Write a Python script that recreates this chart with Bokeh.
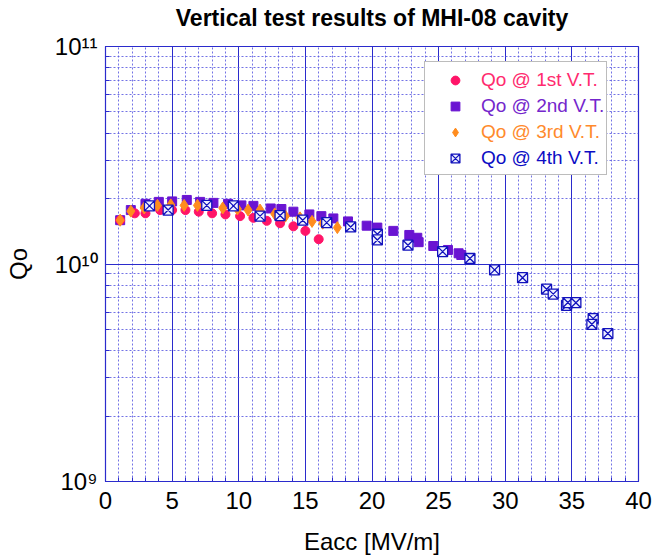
from bokeh.plotting import figure
from bokeh.models import Legend, LegendItem, SingleIntervalTicker, LogTicker, Title
from bokeh.embed import file_html
from bokeh.resources import INLINE

# ---- data ----
e_1st = [1.1, 2.2, 3.0, 4.1, 5.0, 6.0, 7.0, 8.0, 9.0, 10.1, 11.1, 12.1, 13.1, 14.1, 15.0, 16.0]
q_1st = [1.59e10, 1.71e10, 1.71e10, 1.77e10, 1.77e10, 1.77e10, 1.74e10, 1.71e10, 1.69e10,
         1.66e10, 1.63e10, 1.58e10, 1.54e10, 1.49e10, 1.42e10, 1.30e10]

e_2nd = [1.1, 1.9, 3.0, 4.0, 5.0, 6.1, 7.1, 8.1, 9.2, 10.2, 11.1, 12.4, 13.2, 14.1, 15.3,
         16.2, 17.1, 18.2, 19.6, 20.4, 21.6, 22.8, 23.4, 23.5, 24.6, 25.7, 26.5, 26.7]
q_2nd = [1.59e10, 1.77e10, 1.89e10, 1.93e10, 1.94e10, 1.97e10, 1.93e10, 1.91e10, 1.89e10,
         1.86e10, 1.85e10, 1.80e10, 1.79e10, 1.74e10, 1.69e10, 1.66e10, 1.62e10, 1.57e10,
         1.50e10, 1.47e10, 1.42e10, 1.36e10, 1.32e10, 1.26e10, 1.21e10, 1.16e10, 1.12e10,
         1.10e10]

e_3rd = [1.1, 1.9, 2.9, 3.9, 4.9, 5.9, 6.9, 8.8, 9.9, 10.7, 11.6, 12.7, 13.5, 14.6, 15.5,
         16.3, 17.4]
q_3rd = [1.59e10, 1.75e10, 1.81e10, 1.86e10, 1.87e10, 1.86e10, 1.86e10, 1.81e10, 1.79e10,
         1.77e10, 1.77e10, 1.70e10, 1.66e10, 1.63e10, 1.57e10, 1.54e10, 1.47e10]

e_4th = [3.3, 4.7, 7.6, 9.6, 11.6, 13.1, 14.8, 16.6, 18.4, 20.4, 20.4, 22.7, 25.3, 27.35,
         29.2, 31.3, 33.1, 33.6, 34.6, 34.7, 35.3, 36.6, 36.5, 37.7]
q_4th = [1.85e10, 1.77e10, 1.86e10, 1.85e10, 1.66e10, 1.67e10, 1.59e10, 1.55e10, 1.48e10,
         1.37e10, 1.29e10, 1.22e10, 1.14e10, 1.06e10, 9.4e9, 8.65e9, 7.66e9, 7.27e9,
         6.45e9, 6.65e9, 6.64e9, 5.61e9, 5.28e9, 4.79e9]

labels = ["Qo @ 1st V.T.", "Qo @ 2nd V.T.", "Qo @ 3rd V.T.", "Qo @ 4th V.T."]
title_text = "Vertical test results of MHI-08 cavity"
x_ticks_interval = 5
y_tick_labels = {1e9: "10\u2079", 1e10: "10\u00b9\u2070", 1e11: "10\u00b9\u00b9"}

# ---- styling ----
FONT = "Liberation Sans"
c1, c2, c3, c4 = "#ff1468", "#6a14d2", "#ff8c1e", "#1212bc"
t1, t2, t3, t4 = "#ff2a6e", "#7426cc", "#ff8a2c", "#0c0cc4"
GRID = "#2b2bcc"
MINOR = "#5a5ae0"

p = figure(width=654, height=557, x_range=(0, 40), y_range=(1e9, 1e11),
           y_axis_type="log", output_backend="svg", toolbar_location=None,
           min_border_left=105, min_border_right=16, min_border_top=45,
           min_border_bottom=76)

# real title (outer panel)
p.title.text = title_text
p.title.align = "center"
p.title.text_font = FONT
p.title.text_font_size = "23px"
p.title.text_font_style = "bold"
p.title.text_color = "black"
p.title.standoff = 4

# small spacer panel between the title and the frame
p.add_layout(Title(text=" ", text_font_size="1px", standoff=11), "above")

p.outline_line_color = GRID
p.outline_line_width = 1.2

# axes
p.xaxis.ticker = SingleIntervalTicker(interval=x_ticks_interval, num_minor_ticks=5)
p.yaxis.ticker = LogTicker(num_minor_ticks=10)
p.yaxis.major_label_overrides = y_tick_labels
for ax in (p.xaxis, p.yaxis):
    ax.axis_line_color = GRID
    ax.major_tick_line_color = GRID
    ax.minor_tick_line_color = GRID
    ax.major_tick_in = 5
    ax.major_tick_out = 0
    ax.minor_tick_in = 4
    ax.minor_tick_out = 0
    ax.major_label_text_font = FONT
    ax.major_label_text_font_size = "24px"
    ax.major_label_text_color = "black"
    ax.axis_label_text_font = FONT
    ax.axis_label_text_font_size = "24px"
    ax.axis_label_text_font_style = "normal"
    ax.axis_label_text_color = "black"

p.xaxis.axis_label = "Eacc [MV/m]"
p.yaxis.axis_label = "Qo"
p.xaxis.major_label_standoff = 10
p.xaxis.axis_label_standoff = 16
p.yaxis.major_label_standoff = 8
p.yaxis.axis_label_standoff = 20

# grids
for g in (p.xgrid, p.ygrid):
    g.grid_line_color = GRID
    g.grid_line_width = 1
    g.grid_line_alpha = 1.0
    g.minor_grid_line_color = MINOR
    g.minor_grid_line_dash = "2 2"
    g.minor_grid_line_width = 1
    g.minor_grid_line_alpha = 0.85

# data markers
r2 = p.scatter(e_2nd, q_2nd, marker="square", size=9, fill_color=c2, line_color=c2)
r1 = p.scatter(e_1st, q_1st, marker="circle", size=9, fill_color=c1, line_color=c1)
r3 = p.scatter(e_3rd, q_3rd, marker="diamond", size=12, fill_color=c3, line_color=c3)
r4 = p.scatter(e_4th, q_4th, marker="square_x", size=10, fill_color="#eef0ff",
               line_color=c4, line_width=1.3)

renderers = [r1, r2, r3, r4]
text_colors = [t1, t2, t3, t4]

# invisible renderer so the framing legend draws no glyphs of its own
blank = p.scatter([], [], marker="circle", size=1, fill_alpha=0, line_alpha=0)

PAD = 6
ROW_H = 22
SPACING = 4
LEG_X = 319
LEG_BOTTOM = 306
LABEL_W = 118

def style_legend(lg):
    lg.padding = PAD
    lg.spacing = SPACING
    lg.margin = 0
    lg.glyph_width = 50
    lg.glyph_height = ROW_H
    lg.label_height = ROW_H
    lg.label_width = LABEL_W
    lg.label_standoff = 1
    lg.label_text_font = FONT
    lg.label_text_font_size = "19px"

# box legend (frame only)
box = Legend(items=[LegendItem(label="\u00a0", renderers=[blank]) for _ in renderers],
             location=(LEG_X, LEG_BOTTOM))
style_legend(box)
box.border_line_color = "#7a7a7a"
box.border_line_width = 1.5
box.background_fill_color = "white"
box.background_fill_alpha = 1.0
p.add_layout(box, "center")

# coloured entries, one legend per entry
top_single_bottom = LEG_BOTTOM + 3 * ROW_H + 3 * SPACING
for i, (l, r, tc) in enumerate(zip(labels, renderers, text_colors)):
    lg = Legend(items=[LegendItem(label=l, renderers=[r])],
                location=(LEG_X, top_single_bottom - i * (ROW_H + SPACING)))
    style_legend(lg)
    lg.label_text_color = tc
    lg.border_line_alpha = 0
    lg.background_fill_alpha = 0
    p.add_layout(lg, "center")

open("out.html", "w").write(file_html(p, INLINE))
